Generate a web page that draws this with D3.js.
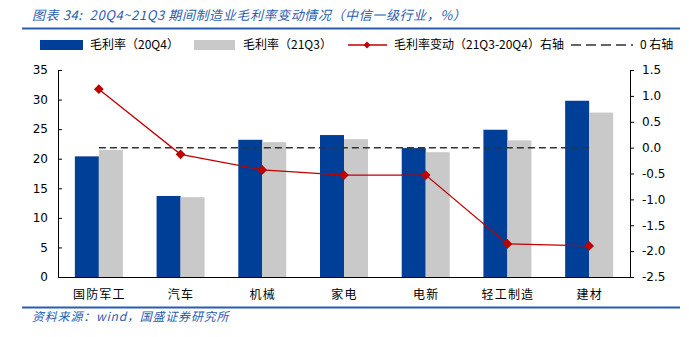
<!DOCTYPE html>
<html><head><meta charset="utf-8">
<script src="https://cdn.jsdelivr.net/npm/d3@7"></script>
<style>
body{margin:0;background:#fff;}
svg{display:block;}
</style></head>
<body><svg id="c" width="689" height="337"></svg>
<script>
const categories = ["国防军工","汽车","机械","家电","电新","轻工制造","建材"];
const gm20Q4 = [20.4, 13.7, 23.2, 24.0, 21.8, 24.9, 29.8];
const gm21Q3 = [21.5, 13.5, 22.8, 23.3, 21.1, 23.1, 27.8];
const gmChange = [1.13, -0.13, -0.43, -0.53, -0.53, -1.86, -1.90];
const leftTicks = [0,5,10,15,20,25,30,35];
const rightTicks = [-2.5,-2.0,-1.5,-1.0,-0.5,0.0,0.5,1.0,1.5];
const seriesNames = ["毛利率（20Q4）","毛利率（21Q3）","毛利率变动（21Q3-20Q4）右轴","0 右轴"];
const titleText = "图表 34:  20Q4~21Q3 期间制造业毛利率变动情况（中信一级行业，%）";
const sourceText = "资料来源：wind，国盛证券研究所";

const svg = d3.select("#c");
const L = 58, R = 630, T = 70, B = 277;
const blue = "#003F97", grey = "#C9C9C9", red = "#C00000", hdr = "#2A5CAF";
const cjk = "'Noto Sans CJK SC', sans-serif";
const num = "'DejaVu Sans', sans-serif";

// header / footer
svg.append("text").attr("x",32).attr("y",20).attr("fill",hdr)
  .attr("font-family",cjk).attr("font-size",13).attr("font-style","italic")
  .attr("letter-spacing",0.6).attr("xml:space","preserve").style("white-space","pre").text(titleText);
svg.append("line").attr("x1",22).attr("x2",680).attr("y1",28.5).attr("y2",28.5).attr("stroke",hdr).attr("stroke-width",2);
svg.append("line").attr("x1",22).attr("x2",680).attr("y1",307.5).attr("y2",307.5).attr("stroke",hdr).attr("stroke-width",2);
svg.append("text").attr("x",32).attr("y",321).attr("fill",hdr)
  .attr("font-family",cjk).attr("font-size",12).attr("font-style","italic").attr("letter-spacing",0.8).text(sourceText);

const x = d3.scaleBand().domain(categories).range([L,R]);
const yL = d3.scaleLinear().domain([0,35]).range([B,T]);
const yR = d3.scaleLinear().domain([-2.5,1.5]).range([B,T]);
const bw = 24;
const cx = d => x(d) + x.bandwidth()/2;

// bars
svg.append("g").selectAll("rect").data(categories).join("rect")
  .attr("x",d=>cx(d)-bw).attr("width",bw)
  .attr("y",(d,i)=>yL(gm20Q4[i])).attr("height",(d,i)=>B-yL(gm20Q4[i])).attr("fill",blue);
svg.append("g").selectAll("rect").data(categories).join("rect")
  .attr("x",d=>cx(d)).attr("width",bw)
  .attr("y",(d,i)=>yL(gm21Q3[i])).attr("height",(d,i)=>B-yL(gm21Q3[i])).attr("fill",grey);

// zero line (right axis)
svg.append("line").attr("x1",cx(categories[0])).attr("x2",cx(categories[categories.length-1]))
  .attr("y1",yR(0)).attr("y2",yR(0)).attr("stroke","#333").attr("stroke-width",1.5).attr("stroke-dasharray","7,4");

// change line
const line = d3.line().x((d,i)=>cx(categories[i])).y(d=>yR(d));
svg.append("path").datum(gmChange).attr("d",line).attr("fill","none").attr("stroke",red).attr("stroke-width",1.3);
const diamond = d3.symbol().type(d3.symbolDiamond2).size(60);
svg.append("g").selectAll("path").data(gmChange).join("path")
  .attr("transform",(d,i)=>`translate(${cx(categories[i])},${yR(d)})`).attr("d",diamond).attr("fill",red);

// axes
const gL = svg.append("g").attr("transform",`translate(${L},0)`)
  .call(d3.axisRight(yL).tickValues(leftTicks).tickSize(4).tickFormat(d3.format("d")));
gL.selectAll("text").attr("x",-10).attr("text-anchor","end");
const gR = svg.append("g").attr("transform",`translate(${R},0)`)
  .call(d3.axisRight(yR).tickValues(rightTicks).tickSize(4).tickFormat(d3.format(".1f")));
gR.selectAll("text").attr("x",12);
[gL,gR].forEach(g=>{
  g.select(".domain").attr("stroke","#000").attr("stroke-width",1).attr("d", `M0.5,${T}V${B}`);
  g.selectAll(".tick line").attr("stroke","#000");
  g.selectAll("text").attr("font-family",num).attr("font-size",12).attr("fill","#000");
});
gR.selectAll(".tick text").text(d=>d3.format(".1f")(d).replace("−","-"));
// x axis
svg.append("line").attr("x1",L).attr("x2",R+0.5).attr("y1",B+0.5).attr("y2",B+0.5).attr("stroke","#000");
svg.append("g").selectAll("text").data(categories).join("text")
  .attr("x",d=>cx(d)+0.5).attr("y",299).attr("text-anchor","middle").attr("letter-spacing",1.2)
  .attr("font-family",cjk).attr("font-size",12).attr("fill","#000").text(d=>d);

// legend
const lg = svg.append("g").attr("font-family",cjk).attr("font-size",12).attr("fill","#000");
const ly = 45;
lg.append("rect").attr("x",40).attr("y",ly-5).attr("width",43).attr("height",10).attr("fill",blue);
lg.append("text").attr("x",90).attr("y",ly+4).text(seriesNames[0]);
lg.append("rect").attr("x",194).attr("y",ly-5).attr("width",41).attr("height",10).attr("fill",grey);
lg.append("text").attr("x",243).attr("y",ly+4).text(seriesNames[1]);
lg.append("line").attr("x1",348).attr("x2",387).attr("y1",ly).attr("y2",ly).attr("stroke",red).attr("stroke-width",1.3);
lg.append("path").attr("transform",`translate(367,${ly})`).attr("d",d3.symbol().type(d3.symbolDiamond2).size(30)).attr("fill",red);
lg.append("text").attr("x",394).attr("y",ly+4).text(seriesNames[2]);
lg.append("line").attr("x1",571).attr("x2",633).attr("y1",ly).attr("y2",ly).attr("stroke","#333").attr("stroke-width",1.5).attr("stroke-dasharray","10,5");
lg.append("text").attr("x",640).attr("y",ly+4).text(seriesNames[3]);
</script></body></html>
